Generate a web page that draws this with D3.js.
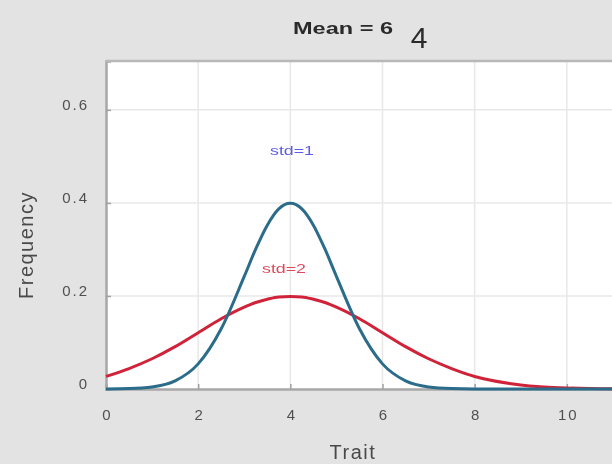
<!DOCTYPE html>
<html>
<head>
<meta charset="utf-8">
<script src="https://cdn.jsdelivr.net/npm/d3@7"></script>
<style>
  body { margin: 0; background: #e3e3e3; }
  svg { display: block; font-family: "Liberation Sans", Arial, sans-serif; }
</style>
</head>
<body>
<svg id="chart" width="612" height="464"></svg>
<script>
// values (normal curves, mean 4)
const traitX = [0, 0.5, 1, 1.5, 2, 2.5, 3, 3.25, 3.5, 3.75, 4, 4.25, 4.5, 4.75, 5, 5.5, 6, 6.5, 7, 7.5, 8, 9, 10, 11, 12];
const std1 = [0.0001, 0.0009, 0.0044, 0.0175, 0.054, 0.1295, 0.242, 0.301, 0.352, 0.387, 0.399, 0.387, 0.352, 0.301, 0.242, 0.1295, 0.054, 0.0175, 0.0044, 0.0009, 0.0001, 0, 0, 0, 0];
const std2 = [0.027, 0.044, 0.065, 0.091, 0.121, 0.151, 0.176, 0.186, 0.193, 0.198, 0.199, 0.198, 0.193, 0.186, 0.176, 0.151, 0.121, 0.091, 0.065, 0.044, 0.027, 0.0088, 0.0022, 0.0004, 0.0001];
const xTicks = [0, 2, 4, 6, 8, 10];
const yTicks = [0, 0.2, 0.4, 0.6];
const gridX = [2, 4, 6, 8, 10, 12];

const svg = d3.select("#chart");
const plotLeft = 106, plotRight = 659, plotTop = 61, plotBottom = 389;

// soft blur, the source is an upscaled screenshot
svg.append("defs").append("filter").attr("id", "soft")
  .append("feGaussianBlur").attr("stdDeviation", 0.6);
const root = svg.append("g").attr("filter", "url(#soft)");

const x = d3.scaleLinear().domain([0, 12]).range([plotLeft, plotRight]);
const y = d3.scaleLinear().domain([0, 0.705]).range([plotBottom, plotTop]);

root.append("rect")
  .attr("x", plotLeft).attr("y", plotTop)
  .attr("width", plotRight - plotLeft).attr("height", plotBottom - plotTop)
  .attr("fill", "#ffffff");

// grid
root.append("g").selectAll("line").data(gridX).join("line")
  .attr("x1", d => x(d)).attr("x2", d => x(d))
  .attr("y1", plotTop).attr("y2", plotBottom)
  .attr("stroke", "#e8e8e8").attr("stroke-width", 1.5);
root.append("g").selectAll("line").data(yTicks.slice(1)).join("line")
  .attr("x1", plotLeft).attr("x2", plotRight)
  .attr("y1", d => y(d)).attr("y2", d => y(d))
  .attr("stroke", "#e8e8e8").attr("stroke-width", 1.5);

const xAxis = root.append("g")
  .attr("transform", `translate(0,${plotBottom})`)
  .call(d3.axisBottom(x).tickValues(xTicks).tickSize(-5).tickPadding(17));
const yAxis = root.append("g")
  .attr("transform", `translate(${plotLeft},0)`)
  .call(d3.axisLeft(y).tickValues(yTicks).tickSize(-5).tickPadding(19)
    .tickFormat(d => d === 0 ? "0" : d3.format(".1f")(d)));

[xAxis, yAxis].forEach(g => {
  g.select(".domain").attr("stroke", "#a8a8a8").attr("stroke-width", 2.5);
  g.selectAll(".tick line").attr("stroke", "#a0a0a0").attr("stroke-width", 1.5);
  g.selectAll(".tick text").attr("fill", "#505050").attr("font-size", 15)
    .attr("letter-spacing", 2)
    .attr("font-family", "Liberation Sans, Arial, sans-serif");
});
xAxis.selectAll(".tick text").attr("dy", "0.95em").attr("dx", 1);
yAxis.selectAll(".tick text").attr("dy", "-0.05em").attr("dx", 2);

root.append("line")
  .attr("x1", plotLeft).attr("x2", plotRight).attr("y1", plotTop).attr("y2", plotTop)
  .attr("stroke", "#b8b8b8").attr("stroke-width", 2.5);

const line = d3.line().x((d, i) => x(traitX[i])).y(d => y(d)).curve(d3.curveMonotoneX);

root.append("path").datum(std2)
  .attr("d", line).attr("fill", "none")
  .attr("stroke", "#d02338").attr("stroke-width", 3);
root.append("path").datum(std1)
  .attr("d", line).attr("fill", "none")
  .attr("stroke", "#2b6c8a").attr("stroke-width", 3);

root.append("text").attr("x", 292).attr("y", 155)
  .attr("text-anchor", "middle").attr("font-size", 12).attr("fill", "#5b5be6")
  .attr("textLength", 44).attr("lengthAdjust", "spacingAndGlyphs")
  .text("std=1");
root.append("text").attr("x", 284).attr("y", 273)
  .attr("text-anchor", "middle").attr("font-size", 12).attr("fill", "#e0485c")
  .attr("textLength", 44).attr("lengthAdjust", "spacingAndGlyphs")
  .text("std=2");

root.append("text").attr("x", 343).attr("y", 34)
  .attr("text-anchor", "middle").attr("font-size", 16).attr("font-weight", "bold")
  .attr("textLength", 100).attr("lengthAdjust", "spacingAndGlyphs")
  .attr("fill", "#2a2a2a").text("Mean = 6");
root.append("text").attr("x", 419).attr("y", 48)
  .attr("text-anchor", "middle").attr("font-size", 30).attr("fill", "#2a2a2a")
  .text("4");

root.append("text").attr("x", 353).attr("y", 459)
  .attr("text-anchor", "middle").attr("font-size", 20).attr("fill", "#4a4a4a")
  .attr("letter-spacing", 1.5)
  .text("Trait");
root.append("text")
  .attr("transform", "translate(33,245) rotate(-90)")
  .attr("text-anchor", "middle").attr("font-size", 20).attr("fill", "#4a4a4a")
  .attr("letter-spacing", 1.5)
  .text("Frequency");
</script>
</body>
</html>
